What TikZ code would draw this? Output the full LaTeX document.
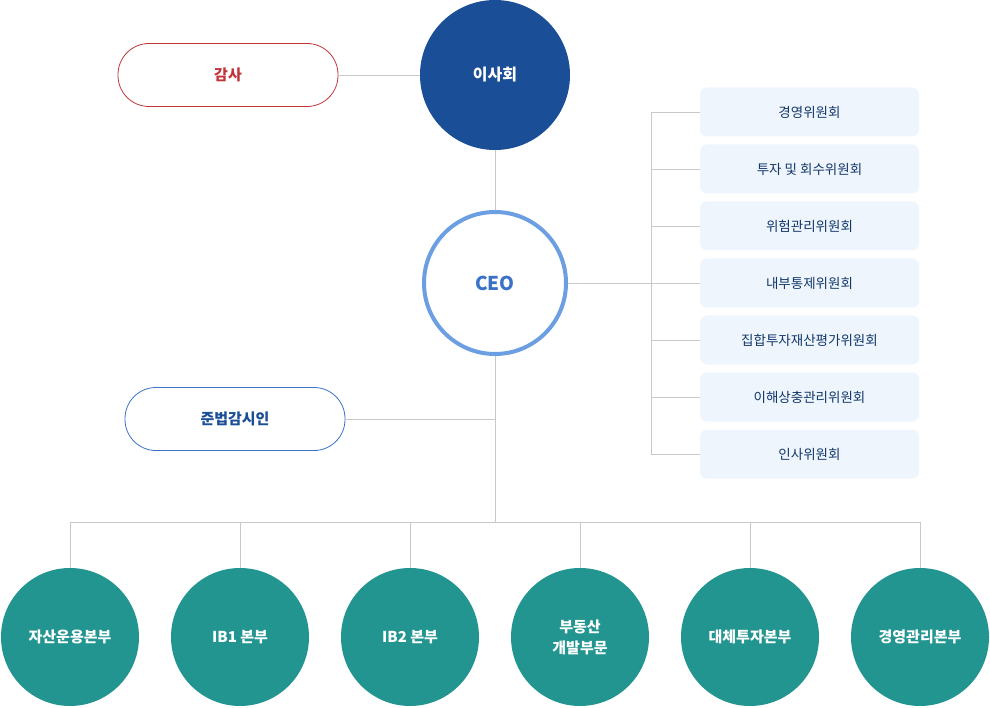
\documentclass[tikz,border=0pt]{standalone}
\usepackage{fontspec}
\setmainfont{Noto Sans CJK KR}
\usetikzlibrary{positioning}
\definecolor{boardblue}{HTML}{1A4E96}
\definecolor{ceoblue}{HTML}{6C9FE2}
\definecolor{ceotext}{HTML}{3A72C8}
\definecolor{auditred}{HTML}{C0353A}
\definecolor{compfill}{HTML}{EFF5FD}
\definecolor{teal}{HTML}{229591}
\definecolor{linegray}{HTML}{C8C8C8}
\tikzset{
  conn/.style={draw=linegray,line width=0.8pt},
  pill/.style={rounded corners=31pt,minimum width=220pt,minimum height=63pt,fill=white,line width=0.8pt,font=\fontsize{15}{18}\selectfont},
  combox/.style={rounded corners=7pt,fill=compfill,minimum width=219pt,minimum height=49pt,text=boardblue!70!black,font=\fontsize{13.5}{16}\selectfont},
  divcircle/.style={circle,fill=teal,minimum size=138pt,inner sep=0pt,text=white,align=center,font=\fontsize{15}{21}\selectfont\bfseries}
}
\begin{document}
\begin{tikzpicture}[x=1pt,y=-1pt]
\useasboundingbox (0,0) rectangle (990,708);
% top
\node[circle,fill=boardblue,minimum size=150pt,inner sep=0pt,text=white,font=\fontsize{16}{19}\selectfont\bfseries] (board) at (495,75) {이사회};
\node[pill,draw=auditred,text=auditred] (audit) at (228,75) {\bfseries 감사};
\node[circle,draw=ceoblue,line width=4pt,fill=white,minimum size=142pt,inner sep=0pt,text=ceotext,font=\fontsize{19}{22}\selectfont\bfseries] (ceo) at (495,283) {CEO};
\node[pill,draw=ceotext,text=boardblue] (comp) at (235,419) {\bfseries 준법감시인};
\draw[conn] (audit) -- (board);
\draw[conn] (board) -- (ceo);
% committees
\coordinate (cbus) at (651,283);
\draw[conn] (ceo.east) -- (cbus);
\foreach \t [count=\i] in {경영위원회,투자 및 회수위원회,위험관리위원회,내부통제위원회,집합투자재산평가위원회,이해상충관리위원회,인사위원회}{
  \node[combox] (com\i) at (809.5,55+57*\i) {\t};
  \draw[conn] (com\i.west) -- (651,55+57*\i);
}
\draw[conn] (651,112) -- (651,454);
% compliance
\coordinate (cmp) at (495,419);
\draw[conn] (comp.east) -- (cmp);
\coordinate (dbus) at (495,522);
\draw[conn] (ceo.south) -- (dbus);
\draw[conn] (70,522) -- (920,522);
% divisions
\foreach \t [count=\i] in {자산운용본부,IB1 본부,IB2 본부,부동산\\개발부문,대체투자본부,경영관리본부}{
  \node[divcircle] (div\i) at (70+170*\i-170,637) {\t};
  \draw[conn] (70+170*\i-170,522) -- (div\i.north);
}
\end{tikzpicture}
\end{document}
